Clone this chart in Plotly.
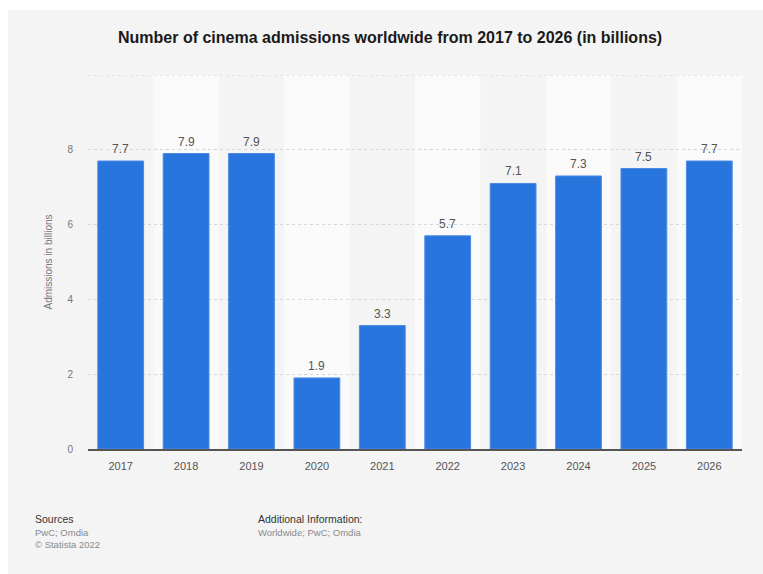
import plotly.graph_objects as go

years = ["2017", "2018", "2019", "2020", "2021", "2022", "2023", "2024", "2025", "2026"]
admissions = [7.7, 7.9, 7.9, 1.9, 3.3, 5.7, 7.1, 7.3, 7.5, 7.7]
y_ticks = [0, 2, 4, 6, 8, 10]
y_ticktext = ["0", "2", "4", "6", "8", ""]
y_max = 10

W, H = 763, 574
L, R, T, B = 88, 21, 75, 125
pw, ph = W - L - R, H - T - B
FONT = "Liberation Sans, Arial"

def px_x(x):
    return (x - L) / pw

def px_y(y):
    return (H - B - y) / ph

fig = go.Figure()
fig.add_trace(go.Bar(
    x=years, y=admissions,
    marker=dict(color="#2876dd", line=dict(color="#4a8ae3", width=1)),
    hoverinfo="skip",
))

shapes = [
    dict(type="rect", xref="paper", yref="paper", layer="below",
         x0=px_x(8), x1=px_x(W + 5), y0=px_y(H + 5), y1=px_y(10),
         fillcolor="#f4f4f4", line=dict(width=0)),
]
for i in range(1, len(years), 2):
    shapes.append(dict(type="rect", xref="x", yref="paper", layer="below",
                       x0=i - 0.5, x1=i + 0.5, y0=0, y1=1,
                       fillcolor="#fafafa", line=dict(width=0)))
shapes.append(dict(type="line", xref="paper", yref="y", layer="below",
                   x0=0, x1=1, y0=y_max, y1=y_max,
                   line=dict(color="#d6d6d6", width=1, dash="dot")))

annotations = [
    dict(text="<b>Number of cinema admissions worldwide from 2017 to 2026 (in billions)</b>",
         xref="paper", yref="paper", x=px_x(390), y=px_y(37), xanchor="center", yanchor="middle",
         showarrow=False, font=dict(family=FONT, size=16, color="#1a1a1a")),
    dict(text="Sources", xref="paper", yref="paper", x=px_x(33), y=px_y(519),
         xanchor="left", yanchor="middle", showarrow=False,
         font=dict(family=FONT, size=10.5, color="#333333")),
    dict(text="PwC; Omdia", xref="paper", yref="paper", x=px_x(33), y=px_y(532),
         xanchor="left", yanchor="middle", showarrow=False,
         font=dict(family=FONT, size=9.5, color="#8a8a8a")),
    dict(text="© Statista 2022", xref="paper", yref="paper", x=px_x(33), y=px_y(544),
         xanchor="left", yanchor="middle", showarrow=False,
         font=dict(family=FONT, size=9.5, color="#8a8a8a")),
    dict(text="Additional Information:", xref="paper", yref="paper", x=px_x(256), y=px_y(519),
         xanchor="left", yanchor="middle", showarrow=False,
         font=dict(family=FONT, size=10.5, color="#333333")),
    dict(text="Worldwide; PwC; Omdia", xref="paper", yref="paper", x=px_x(256), y=px_y(532),
         xanchor="left", yanchor="middle", showarrow=False,
         font=dict(family=FONT, size=9.5, color="#8a8a8a")),
]
for i, v in enumerate(admissions):
    annotations.append(dict(text=f"{v:.1f}", x=i, y=v, xref="x", yref="y",
                            xanchor="center", yanchor="bottom", yshift=3, showarrow=False,
                            font=dict(family=FONT, size=12, color="#555555")))

fig.update_layout(
    width=W, height=H,
    margin=dict(l=L, r=R, t=T, b=B, pad=0),
    paper_bgcolor="white",
    plot_bgcolor="#f4f4f4",
    bargap=0.3,
    showlegend=False,
    shapes=shapes,
    annotations=annotations,
    font=dict(family=FONT, color="#666666"),
)
fig.update_xaxes(
    type="category", range=[-0.5, len(years) - 0.5],
    showgrid=False, showline=True, linecolor="#555555", linewidth=1.5,
    ticks="", tickfont=dict(size=11, color="#555555"), ticklabelstandoff=6,
    fixedrange=True,
)
fig.update_yaxes(
    range=[0, y_max], tickvals=y_ticks, ticktext=y_ticktext,
    showgrid=True, gridcolor="#d6d6d6", griddash="dot", gridwidth=1,
    zeroline=False, showline=False, ticks="",
    tickfont=dict(size=10, color="#777777"), ticklabelstandoff=14,
    title=dict(text="Admissions in billions", font=dict(size=10, color="#777777"), standoff=12),
    fixedrange=True,
)

fig.write_html("out.html")
